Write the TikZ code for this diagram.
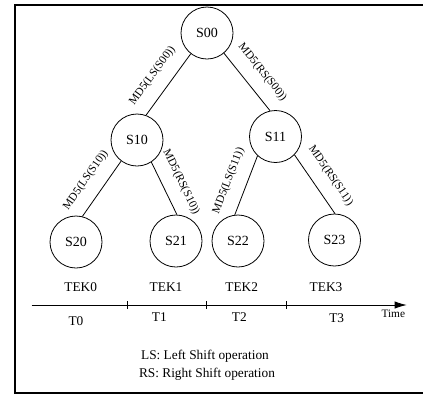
\documentclass[tikz,border=0pt]{standalone}
\usepackage{fontspec}
\setmainfont{Liberation Serif}
\usetikzlibrary{arrows.meta}

\tikzset{
  state/.style={draw, circle, minimum size=39pt, inner sep=0pt, line width=0.6pt,
    font=\fontsize{10.5}{12}\selectfont},
  hash/.style={font=\fontsize{8.5}{10}\selectfont, sloped, above=6pt, pos=0.53},
  tree/.style={line width=0.6pt},
  tick/.style={line width=0.6pt}
}

\begin{document}
\begin{tikzpicture}[x=0.75pt,y=-0.75pt]
\useasboundingbox (0,0) rectangle (423,394);
% frame
\draw[line width=1.5pt] (15,5) rectangle (440,393);

% key tree
\node[state] (s00) at (207,33) {S00};
\node[state] (s10) at (137,140) {S10};
\node[state] (s11) at (275.5,136.5) {S11};
\node[state] (s20) at (76,242) {S20};
\node[state] (s21) at (176,241) {S21};
\node[state] (s22) at (238,241) {S22};
\node[state] (s23) at (334.5,240) {S23};

\draw[tree] (s00.-128) -- node[hash] {MD5(LS(S00))} (s10.70);
\draw[tree] (s00.-50) -- node[hash] {MD5(RS(S00))} (s11.102);
\draw[tree] (s10.-127) -- node[hash] {MD5(LS(S10))} (s20.76);
\draw[tree] (s10.-57) -- node[hash] {MD5(RS(S10))} (s21.88);
\draw[tree] (s11.-133) -- node[hash] {MD5(LS(S11))} (s22.97);
\draw[tree] (s11.-44) -- node[hash] {MD5(RS(S11))} (s23.89);

% keys
\node (tek0) at (80.7,286.7) {TEK0};
\node (tek1) at (166,286.7) {TEK1};
\node (tek2) at (241.7,286.7) {TEK2};
\node (tek3) at (326,286.7) {TEK3};

% time axis
\coordinate (t start) at (31.7,305);
\coordinate (t end) at (406.7,305);
\draw[line width=0.6pt, -{Latex[length=9pt,width=5.5pt]}] (t start) -- (t end);
\foreach \x in {127.3,206,286}
  \draw[tick] (\x,301) -- (\x,309);

\node (t0) at (76,321) {T0};
\node (t1) at (159.3,317.3) {T1};
\node (t2) at (239.3,317.3) {T2};
\node (t3) at (336.7,318) {T3};
\node[font=\fontsize{8.5}{10}\selectfont] (time) at (393.3,313.3) {Time};

% legend
\node (ls) at (205,356.7) {LS: Left Shift operation};
\node (rs) at (207,374) {RS: Right Shift operation};
\end{tikzpicture}
\end{document}
